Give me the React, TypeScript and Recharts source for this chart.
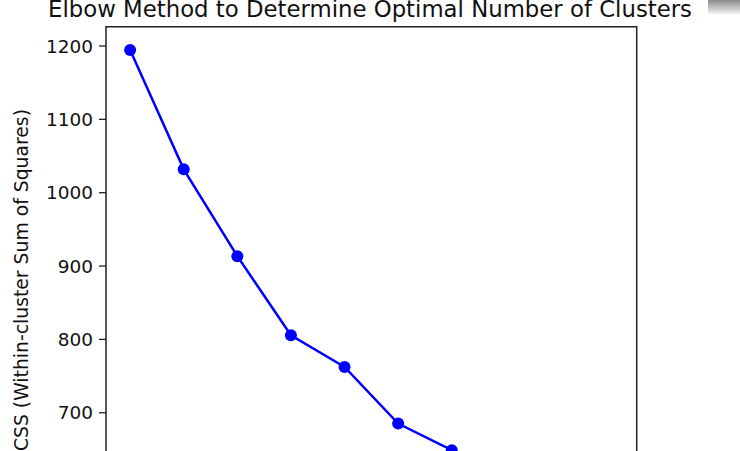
import React from "react";
import { LineChart, Line, XAxis, YAxis, ReferenceArea } from "recharts";

const clusterCounts = [1, 2, 3, 4, 5, 6, 7, 8, 9, 10];
const wcssValues = [1194.5, 1031.8, 913.5, 805.7, 762.5, 685.2, 649, 612, 585, 558];
const yTicks = [600, 700, 800, 900, 1000, 1100, 1200];
const xDomain: [number, number] = [0.55, 10.45];
const yDomain: [number, number] = [526.5, 1226.3];
const titleText = "Elbow Method to Determine Optimal Number of Clusters";
const yLabelText = "WCSS (Within-cluster Sum of Squares)";

const data = clusterCounts.map((k, i) => ({ k, wcss: wcssValues[i] }));

const FONT = "'DejaVu Sans', sans-serif";

const YLabel = (props: any) => {
  const vb = props.viewBox || { x: 0, y: 0, width: 0, height: 0 };
  const cx = 28.5;
  const cy = vb.y + vb.height / 2 + 6;
  return (
    <text
      x={cx}
      y={cy}
      transform={`rotate(-90, ${cx}, ${cy})`}
      textAnchor="middle"
      fill="#111"
      fontSize={18.8}
      fontFamily={FONT}
    >
      {yLabelText}
    </text>
  );
};

export default function App() {
  return (
    <div
      style={{
        position: "absolute",
        left: 0,
        top: 0,
        width: 740,
        height: 451,
        overflow: "hidden",
        background: "#fff",
        fontFamily: FONT,
      }}
    >
      <div
        style={{
          position: "absolute",
          left: 708,
          top: 0,
          width: 32,
          height: 14,
          background: "linear-gradient(#8a8a8a, #f2f2f2)",
        }}
      />
      <div style={{ position: "absolute", left: 0, top: 0 }}>
        <LineChart
          width={740}
          height={560}
          data={data}
          margin={{ top: 26.7, right: 103.3, bottom: 20, left: 0 }}
        >
          <text
            x={370}
            y={16.5}
            textAnchor="middle"
            fill="#111"
            fontSize={22.8}
            fontFamily={FONT}
          >
            {titleText}
          </text>
          <XAxis
            dataKey="k"
            type="number"
            domain={xDomain}
            allowDataOverflow
            hide
          />
          <YAxis
            type="number"
            domain={yDomain}
            ticks={yTicks}
            allowDataOverflow
            width={106}
            tickSize={7}
            tickMargin={6}
            axisLine={false}
            tickLine={{ stroke: "#222", strokeWidth: 1.3 }}
            tick={{ fill: "#111", fontSize: 18.5, fontFamily: FONT }}
            label={<YLabel />}
          />
          <ReferenceArea
            x1={xDomain[0]}
            x2={xDomain[1]}
            y1={yDomain[0]}
            y2={yDomain[1]}
            fill="none"
            stroke="#222"
            strokeWidth={1.5}
            ifOverflow="visible"
          />
          <Line
            dataKey="wcss"
            stroke="#0000ff"
            strokeWidth={2.5}
            dot={{ r: 6, fill: "#0000ff", stroke: "#0000ff", strokeWidth: 0 }}
            isAnimationActive={false}
          />
        </LineChart>
      </div>
    </div>
  );
}
